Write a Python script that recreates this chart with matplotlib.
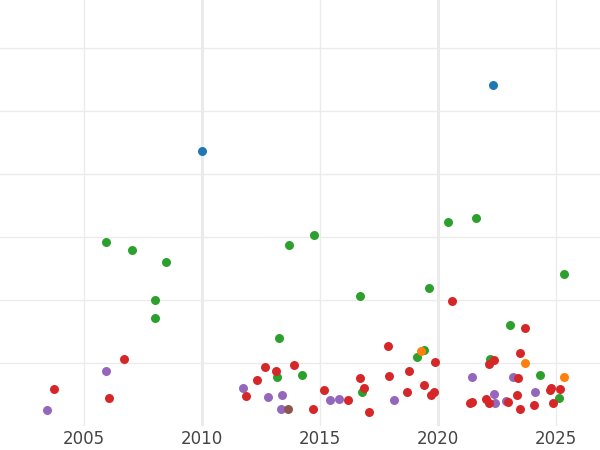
import matplotlib.pyplot as plt
import numpy as np

# year, value per group
blue_x = [2010.0, 2022.33]
blue_y = [4.37, 5.41]

green_x = [2005.93, 2007.03, 2008.47, 2008.01, 2008.01, 2013.69, 2014.75, 2013.26, 2013.18, 2014.24,
           2016.69, 2016.78, 2019.11, 2019.41, 2020.42, 2021.61, 2019.62, 2022.20, 2023.05, 2024.32,
           2025.34, 2025.13]
green_y = [2.92, 2.79, 2.60, 2.00, 1.71, 2.87, 3.03, 1.40, 0.78, 0.81,
           2.06, 0.54, 1.10, 1.21, 3.24, 3.30, 2.19, 1.06, 1.60, 0.81,
           2.41, 0.44]

orange_x = [2019.28, 2023.69, 2025.34]
orange_y = [1.19, 1.00, 0.78]

brown_x = [2013.64]
brown_y = [0.27]

purple_x = [2003.43, 2005.93, 2011.74, 2012.80, 2013.39, 2013.35, 2015.42, 2015.81, 2018.14, 2021.44,
            2022.37, 2022.42, 2022.88, 2023.18, 2024.11]
purple_y = [0.25, 0.87, 0.60, 0.46, 0.49, 0.27, 0.41, 0.43, 0.41, 0.78,
            0.51, 0.37, 0.40, 0.78, 0.54]

red_x = [2003.73, 2006.06, 2006.69, 2011.86, 2012.33, 2012.67, 2013.14, 2013.90, 2014.70, 2015.17,
         2016.19, 2016.69, 2016.86, 2017.08, 2017.88, 2017.92, 2018.69, 2018.77, 2019.41, 2019.70,
         2019.83, 2019.87, 2020.59, 2021.36, 2021.44, 2022.03, 2022.16, 2022.16, 2022.37, 2022.97,
         2023.35, 2023.39, 2023.47, 2023.47, 2023.69, 2024.07, 2024.75, 2024.79, 2024.87, 2025.17]
red_y = [0.59, 0.44, 1.06, 0.48, 0.73, 0.94, 0.87, 0.97, 0.27, 0.57,
         0.41, 0.76, 0.60, 0.22, 1.27, 0.79, 0.54, 0.87, 0.65, 0.49,
         0.54, 1.02, 1.98, 0.37, 0.38, 0.43, 0.37, 0.98, 1.05, 0.38,
         0.49, 0.76, 0.27, 1.16, 1.56, 0.33, 0.57, 0.60, 0.37, 0.59]

fig = plt.figure(figsize=(6, 4.5), dpi=100)
ax = fig.add_axes([0, 24 / 450, 1, 426 / 450])

for xs, ys, c in [(purple_x, purple_y, "tab:purple"), (green_x, green_y, "tab:green"),
                  (orange_x, orange_y, "tab:orange"), (red_x, red_y, "tab:red"),
                  (brown_x, brown_y, "tab:brown"), (blue_x, blue_y, "tab:blue")]:
    ax.scatter(xs, ys, s=42, c=c, linewidths=0, zorder=3)

ax.set_xlim(2001.44, 2026.86)
ax.set_ylim(0, 6.76)
ax.set_xticks([2005, 2010, 2015, 2020, 2025])
ax.set_yticks([1, 2, 3, 4, 5, 6])
ax.tick_params(axis="y", left=False, labelleft=False)
ax.tick_params(axis="x", length=0, labelsize=12, labelcolor="#444444", pad=3)
ax.grid(True, color="#ebebeb", linewidth=1)
for x in [2010, 2020]:
    ax.axvline(x, color="#e8e8e8", linewidth=2, zorder=1)
for s in ax.spines.values():
    s.set_visible(False)

fig.savefig("out.png", dpi=100)
